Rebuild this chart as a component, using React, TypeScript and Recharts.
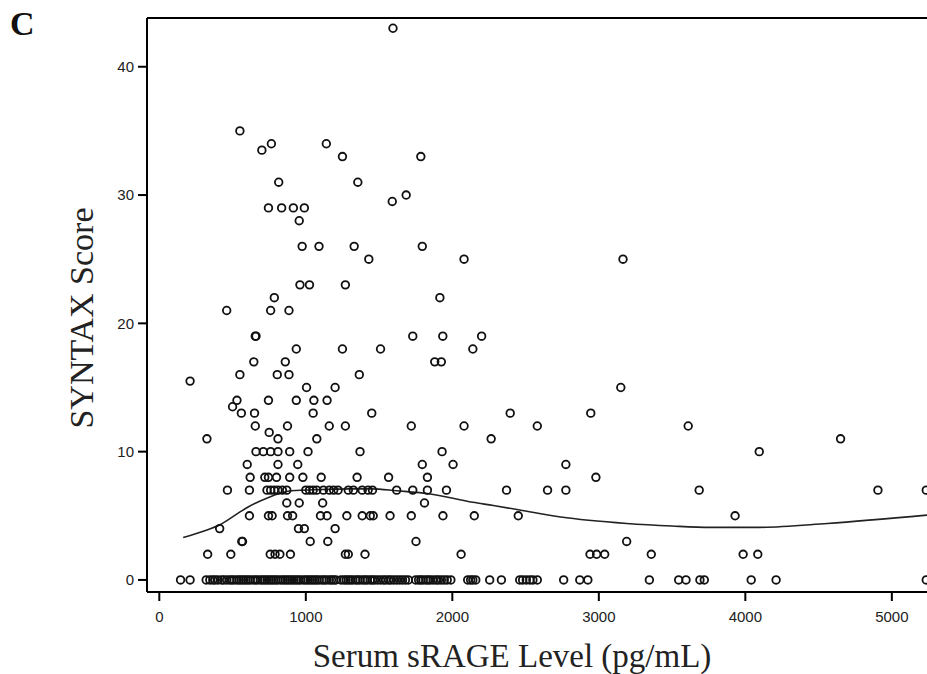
import React from "react";
import { ScatterChart, Scatter, XAxis, YAxis, ReferenceLine } from "recharts";

// SYNTAX score levels and the sRAGE values (pg/mL) of the patients at each level
const scoreLevels = [
  43, 35, 34, 33.5, 33, 31, 30, 29.5, 29, 28, 26, 25, 23, 22, 21, 19, 18, 17, 16,
  15.5, 15, 14, 13.5, 13, 12, 11.5, 11, 10, 9, 8, 7, 6, 5, 4, 3, 2, 0,
];

const srageByScore = [
  [1595],
  [550],
  [765, 1140],
  [700],
  [1250, 1785],
  [815, 1355],
  [1685],
  [1590],
  [745, 835, 915, 990],
  [955],
  [975, 1090, 1330, 1795],
  [1430, 2080, 3165],
  [960, 1025, 1270],
  [785, 1915],
  [460, 760, 885],
  [655, 660, 1730, 1935, 2200],
  [935, 1250, 1510, 2140],
  [645, 860, 1880, 1925],
  [550, 805, 885, 1365],
  [210],
  [1005, 1200, 3150],
  [530, 745, 935, 1055, 1145],
  [500],
  [560, 650, 1050, 1450, 2395, 2945],
  [655, 875, 1160, 1270, 1720, 2080, 2580, 3610],
  [750],
  [325, 810, 1075, 2265, 4650],
  [660, 710, 760, 810, 890, 1015, 1370, 1930, 4095],
  [600, 810, 945, 1795, 2005, 2775],
  [620, 720, 745, 800, 890, 980, 1105, 1350, 1565, 1830, 2980],
  [
    465, 615, 735, 760, 785, 810, 840, 870, 1000, 1025, 1050, 1075, 1120, 1160,
    1190, 1220, 1290, 1325, 1385, 1425, 1455, 1620, 1730, 1830, 1960, 2370, 2650,
    2775, 3685, 4905, 5235,
  ],
  [870, 955, 1115, 1810],
  [
    615, 745, 770, 875, 910, 1100, 1145, 1280, 1385, 1440, 1460, 1575, 1720, 1936,
    2150, 2450, 3930,
  ],
  [412, 950, 990, 1200],
  [563, 568, 1030, 1150, 1752, 3190],
  [
    330, 488, 757, 790, 823, 895, 1270, 1290, 1404, 2060, 2940, 2985, 3040, 3358,
    3985, 4085,
  ],
  [
    145, 210, 320, 345, 365, 380, 400, 425, 440, 460, 480, 495, 510, 530, 545, 560,
    575, 590, 605, 620, 640, 655, 670, 690, 705, 720, 735, 750, 765, 780, 795, 810,
    830, 845, 860, 875, 890, 905, 920, 935, 950, 965, 985, 1000, 1015, 1030, 1045,
    1060, 1075, 1090, 1110, 1125, 1140, 1160, 1175, 1190, 1205, 1240, 1260, 1275,
    1290, 1305, 1320, 1340, 1355, 1370, 1390, 1405, 1420, 1440, 1455, 1470, 1490,
    1510, 1530, 1545, 1565, 1580, 1600, 1620, 1640, 1660, 1680, 1700, 1750, 1770,
    1785, 1800, 1820, 1835, 1850, 1870, 1890, 1905, 1925, 1945, 1965, 1990, 2105,
    2125, 2140, 2160, 2255, 2335, 2460, 2480, 2505, 2530, 2550, 2580, 2760, 2870,
    2925, 3345, 3545, 3595, 3690, 3720, 4040, 4210, 5235,
  ],
];

// smoothed fit line
const fitSrage = [
  163, 300, 414, 551, 600, 750, 824, 900, 1100, 1300, 1450, 1620, 1850, 2140, 2280,
  2460, 2740, 3190, 3500, 3760, 4100, 4560, 5240,
];
const fitScore = [
  3.3, 3.8, 4.3, 5.3, 5.65, 6.45, 6.75, 6.95, 7.05, 7.1, 7.1, 6.95, 6.7, 6.05, 5.8,
  5.45, 4.9, 4.4, 4.2, 4.1, 4.1, 4.4, 5.05,
];

const xTicks = [0, 1000, 2000, 3000, 4000, 5000];
const yTicks = [0, 10, 20, 30, 40];

const points = scoreLevels.flatMap((score, i) =>
  srageByScore[i].map((srage) => ({ x: srage, y: score }))
);
const fitPoints = fitSrage.map((x, i) => ({ x, y: fitScore[i] }));

const Y_MAX = 43.8;
const tickFont = {
  fontSize: 15,
  fill: "#222",
  fontFamily: "'Liberation Sans', Arial, sans-serif",
};
const serif = "'Liberation Serif', 'Times New Roman', serif";

const Ring = (props: any) => {
  if (props.cx == null || props.cy == null) return <g />;
  return (
    <circle
      cx={props.cx}
      cy={props.cy}
      r={3.8}
      fill="none"
      stroke="#111"
      strokeWidth={1.8}
    />
  );
};

export default function App() {
  return (
    <div
      style={{
        position: "absolute",
        left: 0,
        top: 0,
        width: 927,
        height: 674,
        background: "#fff",
      }}
    >
      <ScatterChart
        width={927}
        height={674}
        margin={{ top: 18, right: 0, bottom: 42, left: 87 }}
      >
        <XAxis
          type="number"
          dataKey="x"
          domain={[-84, 5240]}
          allowDataOverflow
          ticks={xTicks}
          height={40}
          tickSize={9}
          tickMargin={10}
          axisLine={{ stroke: "#000", strokeWidth: 2 }}
          tickLine={{ stroke: "#000", strokeWidth: 2 }}
          tick={tickFont}
        />
        <YAxis
          type="number"
          dataKey="y"
          domain={[-0.94, Y_MAX]}
          allowDataOverflow
          ticks={yTicks}
          width={60}
          tickSize={9}
          tickMargin={4}
          axisLine={{ stroke: "#000", strokeWidth: 2 }}
          tickLine={{ stroke: "#000", strokeWidth: 2 }}
          tick={tickFont}
        />
        <ReferenceLine y={Y_MAX} stroke="#000" strokeWidth={2} />
        <Scatter
          data={fitPoints}
          line={{ stroke: "#222", strokeWidth: 1.6 }}
          lineJointType="monotoneX"
          shape={() => <g />}
          isAnimationActive={false}
        />
        <Scatter data={points} shape={Ring} isAnimationActive={false} />
        <text x={10} y={35} fontSize={34} fontWeight="bold" fontFamily={serif} fill="#111">
          C
        </text>
        <text
          transform="rotate(-90)"
          x={-318}
          y={93}
          textAnchor="middle"
          fontSize={34}
          fontFamily={serif}
          fill="#222"
        >
          SYNTAX Score
        </text>
        <text x={512} y={667} textAnchor="middle" fontSize={33} fontFamily={serif} fill="#222">
          Serum sRAGE Level (pg/mL)
        </text>
      </ScatterChart>
    </div>
  );
}
